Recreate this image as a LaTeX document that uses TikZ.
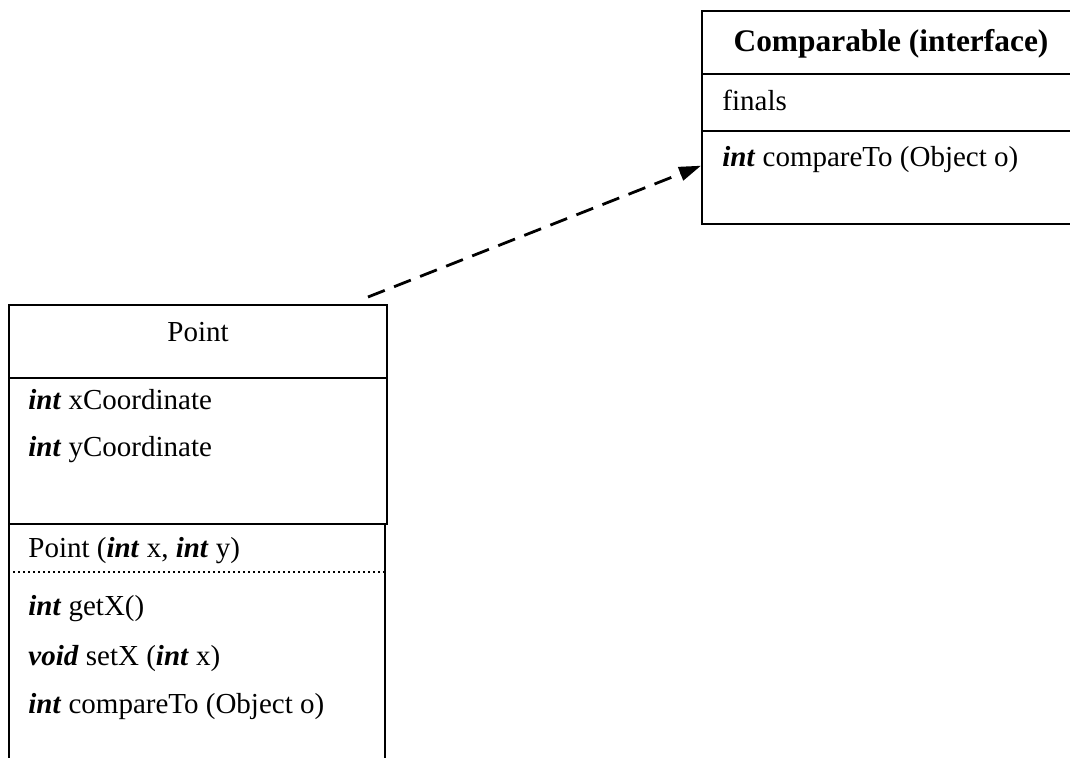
\documentclass[tikz,border=0pt]{standalone}
\usepackage{fontspec}
\setmainfont{Liberation Serif}
\usetikzlibrary{arrows.meta,calc}
\newcommand{\kw}[1]{\textbf{\textit{#1}}}
\begin{document}
\begin{tikzpicture}[x=0.5pt,y=-0.5pt,
  compart/.style={draw=black,line width=1pt,rectangle,inner sep=0pt,anchor=north west},
  member/.style={anchor=base west,inner sep=0pt,font=\fontsize{14.5pt}{17pt}\selectfont},
  title/.style={anchor=base,inner sep=0pt,font=\fontsize{14.5pt}{17pt}\selectfont},
  boldtitle/.style={anchor=base,inner sep=0pt,font=\fontsize{15.7pt}{18pt}\selectfont\bfseries},
  realizes/.style={line width=1.4pt,dash pattern=on 9pt off 5pt,
    -{Triangle[length=11pt,width=7pt]}}]
\useasboundingbox (0,0) rectangle (1070,758);

% Comparable interface: name, constants, operations
\node[compart,minimum width=190.5pt,minimum height=31.5pt] (cmpname) at (701,10) {};
\node[compart,minimum width=190.5pt,minimum height=28.5pt] (cmpattr) at (701,73) {};
\node[compart,minimum width=190.5pt,minimum height=46.5pt] (cmpops) at (701,130) {};
\node[boldtitle] (cmptitle) at (891,52) {Comparable (interface)};
\node[member] (cmpfinals) at (722,111) {finals};
\node[member] (cmpcompare) at (722,167) {\kw{int} compareTo (Object o)};

% Point class: name and fields
\node[compart,minimum width=189pt,minimum height=36.5pt] (ptname) at (8,304) {};
\node[compart,minimum width=189pt,minimum height=73pt] (ptattr) at (8,377) {};
\node[title] (pttitle) at (198,342) {Point};
\node[member] (ptx) at (28,410) {\kw{int} xCoordinate};
\node[member] (pty) at (28,457) {\kw{int} yCoordinate};

% Point class: constructor and methods
\node[compart,minimum width=188pt,minimum height=125pt] (ptops) at (8,523) {};
\draw[line width=0.8pt,dash pattern=on 1pt off 1.5pt]
  ($(ptops.north west)+(0,49)$) -- ($(ptops.north east)+(0,49)$);
\node[member] (ptctor) at (28,558) {Point (\kw{int} x, \kw{int} y)};
\node[member] (ptgetx) at (28,615) {\kw{int} getX()};
\node[member] (ptsetx) at (28,665) {\kw{void} setX (\kw{int} x)};
\node[member] (ptcompare) at (28,713) {\kw{int} compareTo (Object o)};

% Realization arrow towards the interface
\coordinate (tail) at (368,297);
\draw[realizes] (tail) -- ($(cmpops.north west)!0.376!(cmpops.south west)$);
\end{tikzpicture}
\end{document}
